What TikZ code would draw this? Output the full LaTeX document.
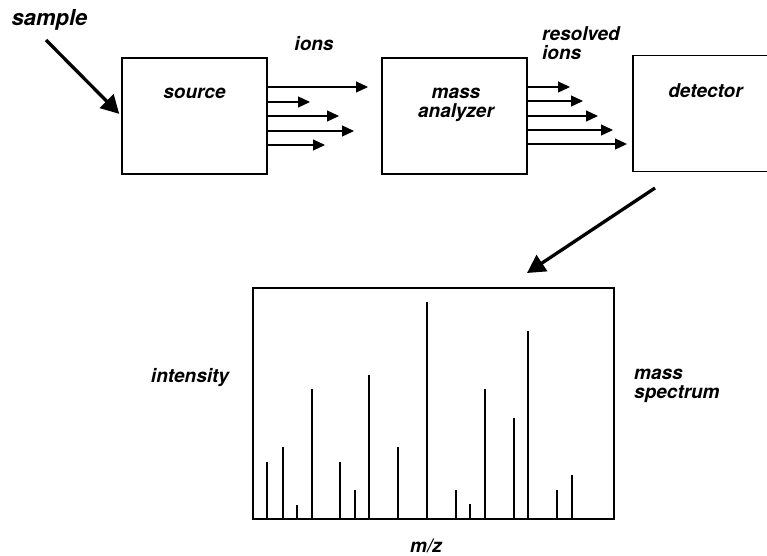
\documentclass[tikz,border=0pt]{standalone}
\usepackage{fontspec}
\setmainfont{TeX Gyre Heros}
\usetikzlibrary{arrows.meta,positioning}

\begin{document}
\begin{tikzpicture}[x=1pt, y=-1pt,
  font=\fontsize{19}{19}\selectfont\bfseries\itshape,
  box/.style={draw, line width=1.3pt, minimum width=#1, minimum height=116pt, inner sep=0pt},
  box/.default=145pt,
  txt/.style={inner sep=0pt, anchor=base},
  ion/.style={-{Triangle[length=12pt, width=11pt]}, line width=1.2pt},
  big/.style={-{Triangle[length=18pt, width=19pt]}, line width=3.3pt},
  peak/.style={line width=1.1pt}]
\useasboundingbox (0,0) rectangle (767,555);
% the three stages
\node[box] (src) at (194.5,116) {};
\node[box] (ana) at (454.5,116) {};
\node[box=137pt] (det) at (701.5,113.5) {};
\node[box=361pt, minimum height=231pt] (spec) at (433.5,403.5) {};
\node[txt] (srcT) at (194.5,98) {source};
\node[txt, align=center] (anaT) at (456,117) {mass\\analyzer};
\node[txt] (detT) at (705.5,97) {detector};
% labels
\node[txt, font=\fontsize{22}{22}\selectfont\bfseries\itshape] (smp) at (49.5,25) {sample};
\node[txt] (ions) at (314,50) {ions};
\node[txt, anchor=base west, align=left] (res) at (542,59) {resolved\\ions};
\node[txt] (inty) at (190,382) {intensity};
\node[txt, anchor=base west, align=left] (msp) at (634,398) {mass\\spectrum};
\node[txt] (mz) at (426,552) {m/z};
% ion beams
\foreach \y/\t [count=\i] in {87/368, 102/310, 116/339, 131/354, 145/325}
  {\coordinate (a\i) at (\t,\y); \draw[ion] (src.east |- a\i) -- (a\i);}
\foreach \y/\t [count=\i] in {87/570, 101/583, 116/598, 130/613, 144/627}
  {\coordinate (b\i) at (\t,\y); \draw[ion] (ana.east |- b\i) -- (b\i);}
% big arrows
\coordinate (smpTail) at (46,40);
\draw[big, shorten >=3pt] (smpTail) -- (src.west);
\coordinate (detTail) at (655,188);
\coordinate (specTip) at (527,273);
\draw[big] (detTail) -- (specTip);
% spectrum lines
\foreach \x/\h in {267/462, 283/447, 297/505, 312/389, 340/462, 355/490, 369/375, 398/447,
                   427/302, 456/490, 470/504, 485/389, 514/418, 528/331, 557/490, 572/475}
  \draw[peak] (spec.south -| \x,0) -- (\x,\h);
\end{tikzpicture}
\end{document}
